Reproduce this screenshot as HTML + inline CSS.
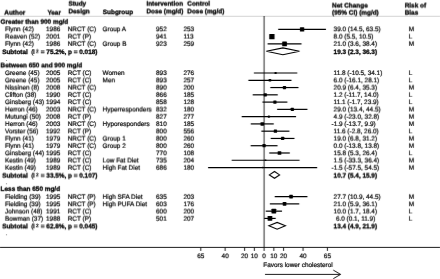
<!DOCTYPE html>
<html lang="en"><head><meta charset="utf-8"><title>Forest plot</title>
<style>
html,body{margin:0;padding:0;background:#fff;}
svg{display:block;}
text{font-family:"Liberation Sans",Arial,Helvetica,sans-serif;font-size:6.42px;fill:#000;stroke:#000;stroke-width:.2px;white-space:pre;text-rendering:geometricPrecision;}
.b{font-weight:bold;fill:#000;stroke-width:.3px;}
.hl{stroke:#c8c8c8;stroke-width:.8;}
.zl{stroke:#111;stroke-width:.9;}
.ax{stroke:#111;stroke-width:.95;}
.ci{stroke:#000;stroke-width:1.2;}
.mk{fill:#000;}
.dm{fill:#fff;stroke:#000;stroke-width:1.05;}
.ar{fill:none;stroke:#111;stroke-width:.95;}
</style></head><body>
<svg width="440" height="279" viewBox="0 0 440 279">
<defs>
<filter id="g0" x="0" y="0" width="440" height="279" filterUnits="userSpaceOnUse" color-interpolation-filters="sRGB"><feConvolveMatrix order="3" kernelMatrix="0.00000 0.00000 0.00000  0.06000 0.88000 0.06000  0.00000 0.00000 0.00000" edgeMode="none" preserveAlpha="false"/></filter>
<filter id="t0" x="0" y="0" width="440" height="279" filterUnits="userSpaceOnUse" color-interpolation-filters="sRGB"><feConvolveMatrix order="3" kernelMatrix="0.00000 0.00000 0.00000  0.06000 0.88000 0.06000  0.00000 0.00000 0.00000" edgeMode="none" preserveAlpha="false"/></filter>
<filter id="t1" x="0" y="0" width="440" height="279" filterUnits="userSpaceOnUse" color-interpolation-filters="sRGB"><feConvolveMatrix order="3" kernelMatrix="0.00000 0.00000 0.00000  0.05250 0.77000 0.05250  0.00750 0.11000 0.00750" edgeMode="none" preserveAlpha="false"/></filter>
<filter id="t2" x="0" y="0" width="440" height="279" filterUnits="userSpaceOnUse" color-interpolation-filters="sRGB"><feConvolveMatrix order="3" kernelMatrix="0.00000 0.00000 0.00000  0.04500 0.66000 0.04500  0.01500 0.22000 0.01500" edgeMode="none" preserveAlpha="false"/></filter>
<filter id="t3" x="0" y="0" width="440" height="279" filterUnits="userSpaceOnUse" color-interpolation-filters="sRGB"><feConvolveMatrix order="3" kernelMatrix="0.00000 0.00000 0.00000  0.03750 0.55000 0.03750  0.02250 0.33000 0.02250" edgeMode="none" preserveAlpha="false"/></filter>
<filter id="t4" x="0" y="0" width="440" height="279" filterUnits="userSpaceOnUse" color-interpolation-filters="sRGB"><feConvolveMatrix order="3" kernelMatrix="0.00000 0.00000 0.00000  0.03000 0.44000 0.03000  0.03000 0.44000 0.03000" edgeMode="none" preserveAlpha="false"/></filter>
<filter id="t5" x="0" y="0" width="440" height="279" filterUnits="userSpaceOnUse" color-interpolation-filters="sRGB"><feConvolveMatrix order="3" kernelMatrix="0.00000 0.00000 0.00000  0.02250 0.33000 0.02250  0.03750 0.55000 0.03750" edgeMode="none" preserveAlpha="false"/></filter>
<filter id="t6" x="0" y="0" width="440" height="279" filterUnits="userSpaceOnUse" color-interpolation-filters="sRGB"><feConvolveMatrix order="3" kernelMatrix="0.00000 0.00000 0.00000  0.01500 0.22000 0.01500  0.04500 0.66000 0.04500" edgeMode="none" preserveAlpha="false"/></filter>
<filter id="t7" x="0" y="0" width="440" height="279" filterUnits="userSpaceOnUse" color-interpolation-filters="sRGB"><feConvolveMatrix order="3" kernelMatrix="0.00000 0.00000 0.00000  0.00750 0.11000 0.00750  0.05250 0.77000 0.05250" edgeMode="none" preserveAlpha="false"/></filter>
</defs>
<rect width="440" height="279" fill="#fff"/>
<g filter="url(#g0)">
<line x1="0" y1="16.3" x2="440" y2="16.3" class="hl"/>
<line x1="264.1" y1="16" x2="264.1" y2="247.4" class="zl"/>
<line x1="0" y1="247.4" x2="440" y2="247.4" class="ax"/>
<line x1="200.79" y1="247.4" x2="200.79" y2="250.90" class="ax"/>
<line x1="225.14" y1="247.4" x2="225.14" y2="250.90" class="ax"/>
<line x1="244.62" y1="247.4" x2="244.62" y2="250.90" class="ax"/>
<line x1="254.36" y1="247.4" x2="254.36" y2="250.90" class="ax"/>
<line x1="264.10" y1="247.4" x2="264.10" y2="250.90" class="ax"/>
<line x1="273.84" y1="247.4" x2="273.84" y2="250.90" class="ax"/>
<line x1="283.58" y1="247.4" x2="283.58" y2="250.90" class="ax"/>
<line x1="303.06" y1="247.4" x2="303.06" y2="250.90" class="ax"/>
<line x1="327.41" y1="247.4" x2="327.41" y2="250.90" class="ax"/>
<path d="M265 274.4H340.4M333.3 270.1L340.6 274.4L333.3 278.7" class="ar"/>
<circle cx="6.5" cy="60.4" r="0.5" fill="#666"/>
<circle cx="6.5" cy="183.8" r="0.5" fill="#666"/>
<circle cx="6.5" cy="234.8" r="0.5" fill="#666"/>
<line x1="278.22" y1="29.40" x2="325.95" y2="29.40" class="ci"/>
<rect x="299.94" y="27.25" width="4.30" height="4.30" rx="0.4" class="mk"/>
<rect x="269.24" y="34.02" width="5.30" height="5.30" rx="0.4" class="mk"/>
<line x1="267.61" y1="43.94" x2="301.50" y2="43.94" class="ci"/>
<rect x="282.20" y="41.59" width="4.70" height="4.70" rx="0.4" class="mk"/>
<line x1="253.87" y1="73.02" x2="297.31" y2="73.02" class="ci"/>
<rect x="274.54" y="71.97" width="2.10" height="2.10" rx="0.4" class="mk"/>
<line x1="248.42" y1="80.29" x2="291.47" y2="80.29" class="ci"/>
<rect x="268.69" y="79.04" width="2.50" height="2.50" rx="0.4" class="mk"/>
<line x1="270.33" y1="87.56" x2="298.48" y2="87.56" class="ci"/>
<rect x="282.86" y="85.96" width="3.20" height="3.20" rx="0.4" class="mk"/>
<line x1="252.70" y1="94.83" x2="277.74" y2="94.83" class="ci"/>
<rect x="263.67" y="93.23" width="3.20" height="3.20" rx="0.4" class="mk"/>
<line x1="262.44" y1="102.10" x2="287.38" y2="102.10" class="ci"/>
<rect x="273.31" y="100.50" width="3.20" height="3.20" rx="0.4" class="mk"/>
<line x1="277.15" y1="109.37" x2="307.44" y2="109.37" class="ci"/>
<rect x="290.75" y="107.77" width="3.20" height="3.20" rx="0.4" class="mk"/>
<line x1="241.70" y1="116.64" x2="296.05" y2="116.64" class="ci"/>
<rect x="267.82" y="115.59" width="2.10" height="2.10" rx="0.4" class="mk"/>
<line x1="250.76" y1="123.91" x2="273.74" y2="123.91" class="ci"/>
<rect x="260.50" y="122.16" width="3.50" height="3.50" rx="0.4" class="mk"/>
<line x1="261.37" y1="131.18" x2="289.42" y2="131.18" class="ci"/>
<rect x="273.80" y="129.58" width="3.20" height="3.20" rx="0.4" class="mk"/>
<line x1="270.72" y1="138.45" x2="294.49" y2="138.45" class="ci"/>
<rect x="281.01" y="136.85" width="3.20" height="3.20" rx="0.4" class="mk"/>
<line x1="250.66" y1="145.72" x2="277.54" y2="145.72" class="ci"/>
<rect x="262.50" y="144.12" width="3.20" height="3.20" rx="0.4" class="mk"/>
<line x1="269.26" y1="152.99" x2="289.81" y2="152.99" class="ci"/>
<rect x="277.69" y="151.19" width="3.60" height="3.60" rx="0.4" class="mk"/>
<line x1="231.67" y1="160.26" x2="299.55" y2="160.26" class="ci"/>
<rect x="264.71" y="159.41" width="1.70" height="1.70" rx="0.4" class="mk"/>
<line x1="208.10" y1="167.53" x2="317.18" y2="167.53" class="ci"/>
<rect x="261.94" y="166.83" width="1.40" height="1.40" rx="0.4" class="mk"/>
<line x1="274.72" y1="196.61" x2="307.44" y2="196.61" class="ci"/>
<rect x="289.28" y="194.81" width="3.60" height="3.60" rx="0.4" class="mk"/>
<line x1="269.85" y1="203.88" x2="299.26" y2="203.88" class="ci"/>
<rect x="282.75" y="202.08" width="3.60" height="3.60" rx="0.4" class="mk"/>
<line x1="265.76" y1="211.15" x2="282.02" y2="211.15" class="ci"/>
<rect x="271.49" y="208.80" width="4.70" height="4.70" rx="0.4" class="mk"/>
<line x1="264.20" y1="218.42" x2="275.69" y2="218.42" class="ci"/>
<rect x="267.59" y="216.07" width="4.70" height="4.70" rx="0.4" class="mk"/>
<path d="M266.34 51.31L282.90 47.91L299.46 51.31L282.90 54.71Z" class="dm"/>
<path d="M269.36 174.90L274.52 171.50L279.59 174.90L274.52 178.30Z" class="dm"/>
<path d="M268.87 225.79L277.15 222.39L285.43 225.79L277.15 229.19Z" class="dm"/>
</g>
<g filter="url(#t0)">
<text x="263.30" y="267">Favors lower cholesterol</text>
<text x="5.00" y="75">Greene (45)</text>
<text x="46.00" y="75">2005</text>
<text x="67.70" y="75">RCT (C)</text>
<text x="102.60" y="75">Women</text>
<text x="156.00" y="75">893</text>
<text x="183.40" y="75">276</text>
<text x="333.60" y="75">11.8 (-10.5, 34.1)</text>
<text x="408.80" y="75">L</text>
<text x="5.00" y="126">Herron (46)</text>
<text x="46.00" y="126">2003</text>
<text x="67.70" y="126">NRCT (C)</text>
<text x="102.60" y="126">Hyporesponders</text>
<text x="156.00" y="126">810</text>
<text x="183.40" y="126">185</text>
<text x="331.50" y="126">-1.9 (-13.7, 9.9)</text>
<text x="408.80" y="126">M</text>
<text x="2.20" y="54" class="b">Subtotal</text>
<text x="31.20" y="54" style="stroke-width:.3px">(</text>
<text x="33.10" y="54" class="b" style="stroke-width:.1px">I</text>
<text x="40.80" y="54" class="b">= 75.2%, p = 0.018)</text>
<text x="333.60" y="54" class="b">19.3 (2.3, 36.3)</text>
<text x="35.90" y="227" style="font-size:4.6px;stroke-width:.25px">2</text>
</g>
<g filter="url(#t1)">
<text x="102.80" y="14" class="b">Subgroup</text>
<text x="200.79" y="258" text-anchor="middle">65</text>
<text x="225.14" y="258" text-anchor="middle">40</text>
<text x="244.62" y="258" text-anchor="middle">20</text>
<text x="254.36" y="258" text-anchor="middle">10</text>
<text x="264.10" y="258" text-anchor="middle">0</text>
<text x="273.84" y="258" text-anchor="middle">10</text>
<text x="283.58" y="258" text-anchor="middle">20</text>
<text x="303.06" y="258" text-anchor="middle">40</text>
<text x="327.41" y="258" text-anchor="middle">65</text>
<text x="5.00" y="104">Ginsberg (43)</text>
<text x="46.00" y="104">1994</text>
<text x="67.70" y="104">RCT (C)</text>
<text x="156.00" y="104">858</text>
<text x="183.40" y="104">128</text>
<text x="333.60" y="104">11.1 (-1.7, 23.9)</text>
<text x="408.80" y="104">L</text>
</g>
<g filter="url(#t2)">
<text x="5.00" y="31">Flynn (42)</text>
<text x="46.00" y="31">1986</text>
<text x="67.70" y="31">NRCT (C)</text>
<text x="102.60" y="31">Group A</text>
<text x="156.00" y="31">952</text>
<text x="183.40" y="31">253</text>
<text x="333.60" y="31">39.0 (14.5, 63.5)</text>
<text x="408.80" y="31">M</text>
<text x="5.00" y="155">Ginsberg (44)</text>
<text x="46.00" y="155">1995</text>
<text x="67.70" y="155">RCT (C)</text>
<text x="156.00" y="155">770</text>
<text x="183.40" y="155">108</text>
<text x="333.60" y="155">15.8 (5.3, 26.4)</text>
<text x="408.80" y="155">L</text>
<text x="5.00" y="206">Fielding (39)</text>
<text x="46.00" y="206">1995</text>
<text x="67.70" y="206">NRCT (P)</text>
<text x="102.60" y="206">High PUFA Diet</text>
<text x="156.00" y="206">603</text>
<text x="183.40" y="206">176</text>
<text x="333.60" y="206">21.0 (5.9, 36.1)</text>
<text x="408.80" y="206">M</text>
<text x="35.90" y="176" style="font-size:4.6px;stroke-width:.25px">2</text>
</g>
<g filter="url(#t3)">
<text x="68.40" y="13" class="b">Design</text>
<text x="146.40" y="13" class="b">Dose (mg/d)</text>
<text x="187.30" y="13" class="b">Dose (mg/d)</text>
<text x="0.60" y="67" class="b">Between 650 and 900 mg/d</text>
<text x="5.00" y="82">Greene (45)</text>
<text x="46.00" y="82">2005</text>
<text x="67.70" y="82">RCT (C)</text>
<text x="102.60" y="82">Men</text>
<text x="156.00" y="82">893</text>
<text x="183.40" y="82">257</text>
<text x="333.60" y="82">6.0 (-16.1, 28.1)</text>
<text x="408.80" y="82">L</text>
<text x="5.00" y="133">Vorster (56)</text>
<text x="46.00" y="133">1992</text>
<text x="67.70" y="133">RCT (P)</text>
<text x="156.00" y="133">800</text>
<text x="183.40" y="133">556</text>
<text x="333.60" y="133">11.6 (-2.8, 26.0)</text>
<text x="408.80" y="133">L</text>
<text x="2.20" y="228" class="b">Subtotal</text>
<text x="31.20" y="228" style="stroke-width:.3px">(</text>
<text x="33.10" y="228" class="b" style="stroke-width:.1px">I</text>
<text x="40.80" y="228" class="b">= 62.8%, p = 0.045)</text>
<text x="333.60" y="228" class="b">13.4 (4.9, 21.9)</text>
</g>
<g filter="url(#t4)">
<text x="332.10" y="7" class="b">Net Change</text>
<text x="404.70" y="7" class="b">Risk of</text>
<text x="5.00" y="111">Herron (46)</text>
<text x="46.00" y="111">2003</text>
<text x="67.70" y="111">NRCT (C)</text>
<text x="102.60" y="111">Hyperresponders</text>
<text x="156.00" y="111">832</text>
<text x="183.40" y="111">180</text>
<text x="333.60" y="111">29.0 (13.4, 44.5)</text>
<text x="408.80" y="111">M</text>
<text x="5.00" y="162">Kestin (49)</text>
<text x="46.00" y="162">1989</text>
<text x="67.70" y="162">RCT (C)</text>
<text x="102.60" y="162">Low Fat Diet</text>
<text x="156.00" y="162">735</text>
<text x="183.40" y="162">204</text>
<text x="333.60" y="162">1.5 (-33.3, 36.4)</text>
<text x="408.80" y="162">M</text>
<text x="5.00" y="213">Johnson (48)</text>
<text x="46.00" y="213">1991</text>
<text x="67.70" y="213">RCT (C)</text>
<text x="156.00" y="213">600</text>
<text x="183.40" y="213">200</text>
<text x="333.60" y="213">10.0 (1.7, 18.4)</text>
<text x="408.80" y="213">L</text>
</g>
<g filter="url(#t5)">
<text x="4.30" y="14" class="b">Author</text>
<text x="47.40" y="14" class="b">Year</text>
<text x="68.40" y="5" class="b">Study</text>
<text x="146.40" y="5" class="b">Intervention</text>
<text x="187.30" y="5" class="b">Control</text>
<text x="332.10" y="14" class="b">(95% CI) (mg/d)</text>
<text x="404.70" y="14" class="b">Bias</text>
<text x="5.00" y="38">Reaven (52)</text>
<text x="46.00" y="38">2001</text>
<text x="67.70" y="38">RCT (P)</text>
<text x="156.00" y="38">941</text>
<text x="183.40" y="38">113</text>
<text x="333.60" y="38">8.0 (5.5, 10.5)</text>
<text x="408.80" y="38">L</text>
<text x="5.00" y="89">Nissinen (8)</text>
<text x="46.00" y="89">2008</text>
<text x="67.70" y="89">NRCT (C)</text>
<text x="156.00" y="89">890</text>
<text x="183.40" y="89">200</text>
<text x="333.60" y="89">20.9 (6.4, 35.3)</text>
<text x="408.80" y="89">M</text>
<text x="5.00" y="140">Flynn (41)</text>
<text x="46.00" y="140">1979</text>
<text x="67.70" y="140">NRCT (C)</text>
<text x="102.60" y="140">Group 1</text>
<text x="156.00" y="140">800</text>
<text x="183.40" y="140">260</text>
<text x="333.60" y="140">19.0 (6.8, 31.2)</text>
<text x="408.80" y="140">M</text>
<text x="35.90" y="52" style="font-size:4.6px;stroke-width:.25px">2</text>
<text x="2.20" y="177" class="b">Subtotal</text>
<text x="31.20" y="177" style="stroke-width:.3px">(</text>
<text x="33.10" y="177" class="b" style="stroke-width:.1px">I</text>
<text x="40.80" y="177" class="b">= 33.5%, p = 0.107)</text>
<text x="333.60" y="177" class="b">10.7 (5.4, 15.9)</text>
</g>
<g filter="url(#t6)">
<text x="0.60" y="23" class="b">Greater than 900 mg/d</text>
<text x="5.00" y="118">Mutungi (50)</text>
<text x="46.00" y="118">2008</text>
<text x="67.70" y="118">RCT (P)</text>
<text x="156.00" y="118">827</text>
<text x="183.40" y="118">277</text>
<text x="333.60" y="118">4.9 (-23.0, 32.8)</text>
<text x="408.80" y="118">M</text>
<text x="5.00" y="169">Kestin (49)</text>
<text x="46.00" y="169">1989</text>
<text x="67.70" y="169">RCT (C)</text>
<text x="102.60" y="169">High Fat Diet</text>
<text x="156.00" y="169">686</text>
<text x="183.40" y="169">180</text>
<text x="331.50" y="169">-1.5 (-57.5, 54.5)</text>
<text x="408.80" y="169">M</text>
<text x="5.00" y="220">Bowman (37)</text>
<text x="46.00" y="220">1988</text>
<text x="67.70" y="220">RCT (P)</text>
<text x="156.00" y="220">501</text>
<text x="183.40" y="220">207</text>
<text x="335.90" y="220">6.0 (0.1, 11.9)</text>
<text x="408.80" y="220">L</text>
</g>
<g filter="url(#t7)">
<text x="0.60" y="190" class="b">Less than 650 mg/d</text>
<text x="5.00" y="45">Flynn (42)</text>
<text x="46.00" y="45">1986</text>
<text x="67.70" y="45">NRCT (C)</text>
<text x="102.60" y="45">Group B</text>
<text x="156.00" y="45">923</text>
<text x="183.40" y="45">259</text>
<text x="333.60" y="45">21.0 (3.6, 38.4)</text>
<text x="408.80" y="45">M</text>
<text x="5.00" y="96">Clifton (38)</text>
<text x="46.00" y="96">1990</text>
<text x="67.70" y="96">RCT (C)</text>
<text x="156.00" y="96">866</text>
<text x="183.40" y="96">185</text>
<text x="333.60" y="96">1.2 (-11.7, 14.0)</text>
<text x="408.80" y="96">L</text>
<text x="5.00" y="147">Flynn (41)</text>
<text x="46.00" y="147">1979</text>
<text x="67.70" y="147">NRCT (C)</text>
<text x="102.60" y="147">Group 2</text>
<text x="156.00" y="147">800</text>
<text x="183.40" y="147">260</text>
<text x="333.60" y="147">0.0 (-13.8, 13.8)</text>
<text x="408.80" y="147">M</text>
<text x="5.00" y="198">Fielding (39)</text>
<text x="46.00" y="198">1995</text>
<text x="67.70" y="198">NRCT (P)</text>
<text x="102.60" y="198">High SFA Diet</text>
<text x="156.00" y="198">635</text>
<text x="183.40" y="198">203</text>
<text x="333.60" y="198">27.7 (10.9, 44.5)</text>
<text x="408.80" y="198">M</text>
</g>
</svg>
</body></html>
